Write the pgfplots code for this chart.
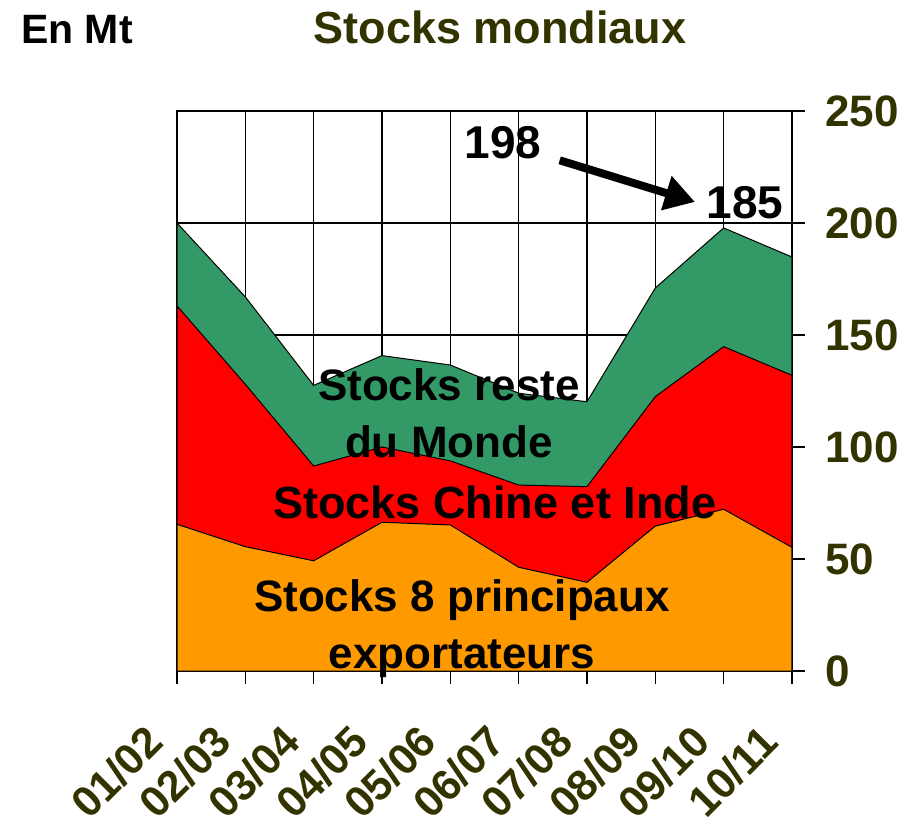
\documentclass[border=0pt]{standalone}
\usepackage{fontspec}
\setmainfont{Liberation Sans}
\usepackage{pgfplots}
\pgfplotsset{compat=1.18}
\usetikzlibrary{arrows.meta}
\definecolor{olivetxt}{HTML}{333300}
\definecolor{seagreen}{HTML}{339966}
\definecolor{xlorange}{HTML}{FF9900}
\newcommand{\bigfnt}{\fontsize{44}{57}\selectfont\bfseries}
\begin{document}
\begin{tikzpicture}[x=1pt,y=1pt]
\useasboundingbox (0,0) rectangle (916,828);
\begin{axis}[
 at={(177pt,157pt)}, anchor=south west,
 width=615pt, height=560pt, scale only axis,
 xmin=0, xmax=9, ymin=0, ymax=250,
 xtick={0,1,2,3,4,5,6,7,8,9},
 xticklabels={01/02,02/03,03/04,04/05,05/06,06/07,07/08,08/09,09/10,10/11},
 ytick={0,50,100,150,200,250},
 grid=major, major grid style={black, line width=1.2pt},
 axis line style={black, line width=1.4pt},
 tick style={black, line width=1.2pt},
 tick align=outside, major tick length=13pt,
 xtick pos=left, ytick pos=right, yticklabel pos=right,
 yticklabel style={font=\fontsize{44}{44}\selectfont\bfseries, text=olivetxt, anchor=west, inner sep=0pt, xshift=20pt},
 xticklabel style={font=\fontsize{43}{43}\selectfont\bfseries, text=olivetxt, inner sep=0pt, anchor=east, xshift=-22pt, yshift=-50pt, rotate=45},
 /pgf/number format/assume math mode=true,
 clip=false,
]
\addplot[fill=seagreen, draw=black, line width=1pt] coordinates {
(0,200) (1,167) (2,127.5) (3,140.8) (4,136.6) (5,124) (6,120.2) (7,171) (8,197.8) (9,184.8)
} \closedcycle;
\addplot[fill=red, draw=black, line width=1pt] coordinates {
(0,163) (1,128) (2,91.5) (3,100) (4,93.8) (5,83) (6,82.3) (7,122.5) (8,144.8) (9,132)
} \closedcycle;
\addplot[fill=xlorange, draw=black, line width=1pt] coordinates {
(0,65.5) (1,55.5) (2,49.2) (3,66.4) (4,65.2) (5,46.3) (6,39.6) (7,64.7) (8,72.2) (9,55.2)
} \closedcycle;
\node[font=\bigfnt, align=center] at (axis cs:3.98,115.2) {Stocks reste\\du Monde};
\node[font=\fontsize{45}{45}\selectfont\bfseries] at (axis cs:4.65,75.4) {Stocks Chine et Inde};
\node[font=\bigfnt, align=center] at (axis cs:4.17,19) {Stocks 8 principaux\\exportateurs};
\node[font=\fontsize{46}{46}\selectfont\bfseries] at (axis cs:4.77,235.7) {198};
\node[font=\fontsize{46}{46}\selectfont\bfseries] at (axis cs:8.31,209) {185};
\draw[line width=8pt, -{Triangle[length=30pt,width=34pt]}] (axis cs:5.6,228) -- (axis cs:7.58,209.4);
\end{axis}
\node[font=\fontsize{45}{45}\selectfont\bfseries, text=olivetxt] at (500,801) {Stocks mondiaux};
\node[font=\fontsize{41}{41}\selectfont\bfseries] at (77,798) {En Mt};
\end{tikzpicture}
\end{document}
